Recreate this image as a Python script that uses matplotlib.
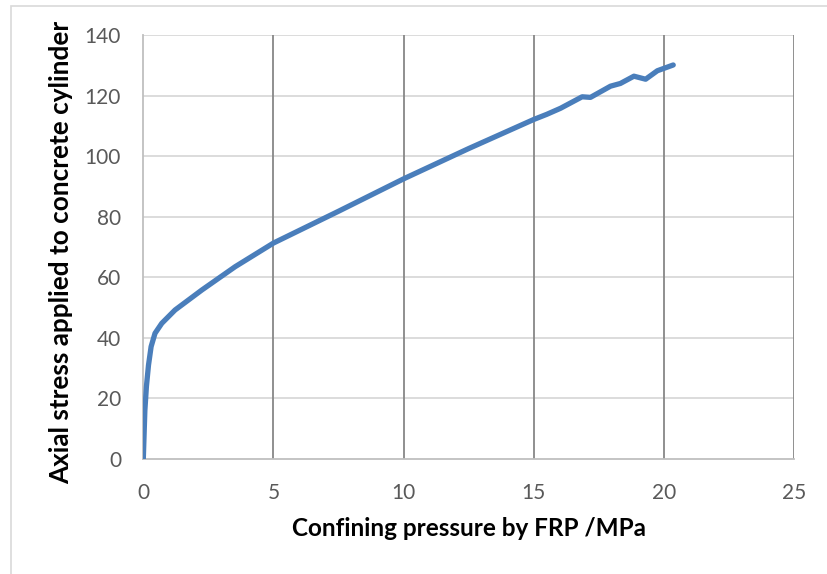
import matplotlib
matplotlib.use("Agg")
import matplotlib.pyplot as plt
from matplotlib.patches import Rectangle

# Confining pressure (MPa) vs axial stress (MPa) for FRP-confined concrete
confining_pressure = [0.0, 0.03, 0.06, 0.12, 0.20, 0.30, 0.45, 0.71, 1.22, 2.25,
                      3.53, 5.0, 7.5, 10.0, 12.5, 15.0, 15.5, 16.03, 16.86,
                      17.18, 17.95, 18.33, 18.85, 19.30, 19.75, 20.36]
axial_stress = [0.0, 8.0, 16.0, 24.0, 31.0, 37.1, 41.5, 44.8, 49.2, 55.8,
                63.5, 71.3, 81.8, 92.5, 102.5, 112.1, 113.8, 115.8, 119.6,
                119.4, 123.1, 124.0, 126.4, 125.4, 128.2, 130.1]

x_ticks = [0, 5, 10, 15, 20, 25]
y_ticks = [0, 20, 40, 60, 80, 100, 120, 140]

W, H = 827, 574
fig = plt.figure(figsize=(W / 100, H / 100), dpi=100)
plt.rcParams['font.family'] = ['Lato', 'DejaVu Sans']

# chart frame
fig.patches.append(Rectangle((11 / W, -0.05), 1.2, 1 - 6 / H + 0.05,
                             transform=fig.transFigure, fill=False,
                             edgecolor='#d9d9d9', linewidth=1.2))

x0, x1, y0, y1 = 143.3, 794.0, 459.0, 35.0
ax = fig.add_axes([x0 / W, 1 - y0 / H, (x1 - x0) / W, (y0 - y1) / H])
ax.set_xlim(0, 25)
ax.set_ylim(0, 140)
ax.set_xticks(x_ticks)
ax.set_yticks(y_ticks)

# horizontal light grid, vertical darker grid
for y in y_ticks[1:]:
    ax.axhline(y, color='#d9d9d9', linewidth=1.3, zorder=1)
for x in x_ticks[1:]:
    ax.axvline(x, color='#878787', linewidth=1.3, zorder=1)

for side in ['top', 'right']:
    ax.spines[side].set_visible(False)
for side in ['left', 'bottom']:
    ax.spines[side].set_color('#bfbfbf')
    ax.spines[side].set_linewidth(1.3)

ax.tick_params(length=0, labelsize=15, labelcolor='#595959')
ax.tick_params(axis='x', pad=17)
ax.tick_params(axis='y', pad=16)

ax.plot(confining_pressure, axial_stress, color='#4a7ebb', linewidth=3.8,
        solid_joinstyle='round', solid_capstyle='round', zorder=3)

# axis titles placed in figure pixel coordinates
fig.text((x0 + x1) / 2 / W, 1 - 529 / H, 'Confining pressure by FRP /MPa',
         fontsize=17.5, fontweight='bold', color='black',
         ha='center', va='center')
fig.text(61 / W, 1 - 252.5 / H, 'Axial stress applied to concrete cylinder',
         fontsize=18.8, fontweight='bold', color='black', rotation=90,
         ha='center', va='center')

fig.savefig('out.png', dpi=100)
